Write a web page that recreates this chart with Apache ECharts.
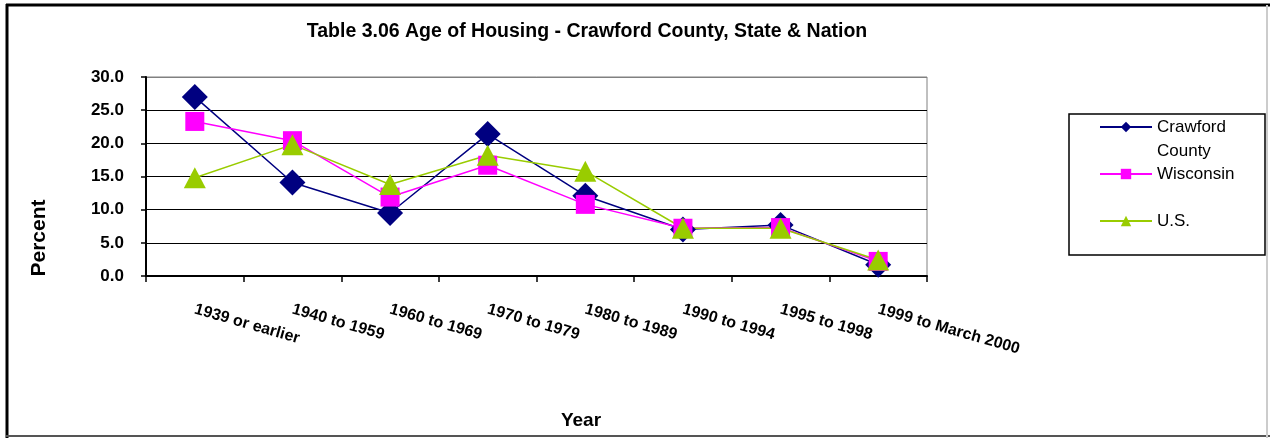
<!DOCTYPE html>
<html>
<head>
<meta charset="utf-8">
<script src="https://cdn.jsdelivr.net/npm/echarts@6/dist/echarts.min.js"></script>
<style>
html,body{margin:0;padding:0;background:#fff;}
#chart{width:1270px;height:438px;}
</style>
</head>
<body>
<div id="chart"></div>
<script>
const categories = ['1939 or earlier','1940 to 1959','1960 to 1969','1970 to 1979','1980 to 1989','1990 to 1994','1995 to 1998','1999 to March 2000'];
const crawford = [27.0, 14.1, 9.5, 21.4, 12.1, 7.0, 7.7, 1.7];
const wisconsin = [23.3, 20.4, 11.9, 16.7, 10.8, 7.2, 7.3, 2.2];
const us = [14.8, 19.8, 13.8, 18.2, 15.8, 7.2, 7.2, 2.4];
const seriesNames = ['Crawford County', 'Wisconsin', 'U.S.'];
const titleText = 'Table 3.06 Age of Housing - Crawford County, State & Nation';
const yTitle = 'Percent';
const xTitle = 'Year';

const FONT = 'Liberation Sans, Arial, sans-serif';
const chart = echarts.init(document.getElementById('chart'), null, {renderer: 'canvas'});

function legendCfg(name, top, formatter) {
  const cfg = {
    data: [name], top: top, left: 1099, padding: 0, selectedMode: false,
    itemWidth: 52, itemHeight: 13, itemGap: 0,
    textStyle: {fontFamily: FONT, fontSize: 17, color: '#000', lineHeight: 24}
  };
  if (formatter) cfg.formatter = formatter;
  return cfg;
}

const option = {
  animation: false,
  backgroundColor: '#fff',
  grid: {left: 146, right: 343, top: 77, bottom: 162, show: true, borderColor: '#808080', borderWidth: 1, backgroundColor: 'transparent'},
  xAxis: {
    type: 'category', data: categories, boundaryGap: true,
    axisLine: {lineStyle: {color: '#000', width: 2}},
    axisTick: {show: true, length: 6, lineStyle: {color: '#000', width: 1.5}},
    axisLabel: {rotate: -16, margin: 33, interval: 0, fontFamily: FONT, fontWeight: 'bold', fontSize: 16, color: '#000'},
    splitLine: {show: false}
  },
  yAxis: {
    type: 'value', min: 0, max: 30, interval: 5,
    axisLine: {show: true, lineStyle: {color: '#000', width: 2}},
    axisTick: {show: true, length: 5, lineStyle: {color: '#000', width: 1.5}},
    axisLabel: {margin: 22, fontFamily: FONT, fontWeight: 'bold', fontSize: 17, color: '#000', formatter: v => v.toFixed(1)},
    splitLine: {show: true, lineStyle: {color: ['#000','#000','#000','#000','#000','#000','#808080'], width: 1.2}}
  },
  legend: [
    legendCfg(seriesNames[0], 91, () => ' \nCrawford\nCounty'),
    legendCfg(seriesNames[1], 162),
    legendCfg(seriesNames[2], 209)
  ],
  series: [
    {name: seriesNames[0], type: 'line', data: crawford, symbol: 'diamond', symbolSize: [26, 26],
     lineStyle: {color: '#000080', width: 1.5}, itemStyle: {color: '#000080'}},
    {name: seriesNames[1], type: 'line', data: wisconsin, symbol: 'rect', symbolSize: [19, 19],
     lineStyle: {color: '#FF00FF', width: 1.5}, itemStyle: {color: '#FF00FF'}},
    {name: seriesNames[2], type: 'line', data: us, symbol: 'triangle', symbolSize: [22, 21],
     lineStyle: {color: '#99CC00', width: 1.5}, itemStyle: {color: '#99CC00'}}
  ],
  graphic: [
    {type: 'text', x: 587, y: 32, style: {text: titleText, fontFamily: FONT, fontWeight: 'bold', fontSize: 19.5, fill: '#000', textAlign: 'center', textVerticalAlign: 'middle'}},
    {type: 'text', x: 39, y: 238, rotation: Math.PI / 2, style: {text: yTitle, fontFamily: FONT, fontWeight: 'bold', fontSize: 21, fill: '#000', textAlign: 'center', textVerticalAlign: 'middle'}},
    {type: 'text', x: 581, y: 421, style: {text: xTitle, fontFamily: FONT, fontWeight: 'bold', fontSize: 19, fill: '#000', textAlign: 'center', textVerticalAlign: 'middle'}},
    {type: 'rect', shape: {x: 1069, y: 114, width: 196, height: 141}, style: {fill: 'none', stroke: '#000', lineWidth: 1.5}, z: 0},
    {type: 'line', shape: {x1: 6, y1: 5, x2: 1270, y2: 5}, style: {stroke: '#000', lineWidth: 3}},
    {type: 'line', shape: {x1: 7, y1: 4, x2: 7, y2: 438}, style: {stroke: '#000', lineWidth: 3}},
    {type: 'line', shape: {x1: 6, y1: 436, x2: 1270, y2: 436}, style: {stroke: '#555', lineWidth: 2}},
    {type: 'line', shape: {x1: 1267, y1: 5, x2: 1267, y2: 438}, style: {stroke: '#ccc', lineWidth: 2}}
  ]
};
chart.setOption(option);
</script>
</body>
</html>
